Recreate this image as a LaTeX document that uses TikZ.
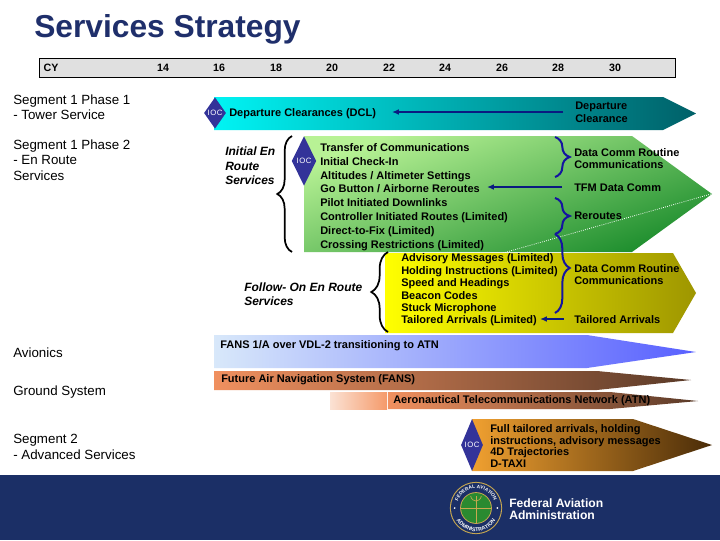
\documentclass[tikz,border=0pt]{standalone}
\usepackage{fontspec}
\setsansfont{Liberation Sans}
\usetikzlibrary{
  arrows.meta, shapes.geometric, decorations.pathreplacing, decorations.text
}
\definecolor{fnavy}{HTML}{1B2F66}
\definecolor{ftitle}{HTML}{1F2F6B}
\definecolor{fgrey}{HTML}{E0E0E0}
\definecolor{fioc}{HTML}{333399}
\definecolor{farrow}{HTML}{0A1A80}
\definecolor{fbrace}{HTML}{1414A0}
\definecolor{fgold}{HTML}{C8A850}
\definecolor{fglobe}{HTML}{2A8A30}
\definecolor{fcyana}{HTML}{00F4F4}
\definecolor{fcyanb}{HTML}{00C0C8}
\definecolor{fcyanc}{HTML}{006068}
\definecolor{fgreena}{HTML}{B8F295}
\definecolor{fgreenm}{HTML}{7CCB6C}
\definecolor{fgreenb}{HTML}{1E8E2E}
\definecolor{fyellowa}{HTML}{FFFF00}
\definecolor{fyellowb}{HTML}{F2EA00}
\definecolor{fyellowc}{HTML}{9E9600}
\definecolor{fbluea}{HTML}{D8E8FA}
\definecolor{fblueb}{HTML}{5860FF}
\definecolor{fbrowna}{HTML}{F0905F}
\definecolor{fbrownb}{HTML}{5A3A28}
\definecolor{fpeach}{HTML}{FBE2D4}
\definecolor{fpeachb}{HTML}{F59A6A}
\definecolor{forangea}{HTML}{F0A030}
\definecolor{forangeb}{HTML}{C97A20}
\definecolor{forangec}{HTML}{4A2C08}
\tikzset{
  >=Latex,
  font=\sffamily,
  segtxt/.style={anchor=west, inner sep=0pt, align=left, font=\fontsize{10}{11.6}\selectfont\sffamily},
  bartxt/.style={anchor=west, inner sep=0pt, align=left, font=\fontsize{8.25}{#1}\selectfont\sffamily\bfseries},
  bartxt/.default=9.6,
  italtxt/.style={anchor=west, inner sep=0pt, align=left, font=\fontsize{9}{10.8}\selectfont\sffamily\bfseries\itshape},
  yeartxt/.style={inner sep=0pt, font=\fontsize{8}{9}\selectfont\sffamily\bfseries},
  ioctxt/.style={text=white, inner sep=0pt, font=\fontsize{5.8}{6}\selectfont\sffamily\addfontfeatures{LetterSpace=8}},
  iocmark/.style={diamond, fill=fioc, inner sep=0pt, label={[ioctxt]center:IOC}},
  backarr/.style={-{Latex[length=1.8mm,width=1.5mm]}, line width=1.1pt, draw=farrow},
  bracelit/.style={decorate, decoration={brace, amplitude=#1}, line width=1.3pt},
  bluebrace/.style={decorate, decoration={brace, amplitude=11pt, aspect=#1}, line width=1.5pt, draw=fbrace}
}
\begin{document}
\begin{tikzpicture}[x=0.75pt,y=-0.75pt]
  \useasboundingbox (0,0) rectangle (720,540);
  \fill[white] (0,0) rectangle (720,540);
  \node[anchor=west, inner sep=0pt, text=ftitle, font=\fontsize{23.8}{28}\selectfont\sffamily\bfseries] (title) at (34,29) {Services Strategy};

  \draw[fill=fgrey, line width=0.7pt] (39,58) rectangle (675,77);
  \node[yeartxt] (cy) at (51,68) {CY};
  \foreach \yr/\xx in {14/163,16/219,18/276,20/332,22/389,24/445,26/502,28/558,30/615}
    \node[yeartxt] (y\yr) at (\xx,68) {\yr};

  \node[segtxt] (seg1) at (13,107) {Segment 1 Phase 1\\- Tower Service};
  \node[segtxt] (seg2) at (13,160) {Segment 1 Phase 2\\- En Route\\Services};
  \node[segtxt] (avio) at (13,353) {Avionics};
  \node[segtxt] (ground) at (13,392) {Ground System};
  \node[segtxt] (seg3) at (13,447) {Segment 2\\- Advanced Services};

  \shade[left color=fcyana, middle color=fcyanb, right color=fcyanc]
    (214,97) -- (663,97) -- (696,113.5) -- (663,130) -- (214,130) -- cycle;
  \shade[top color=fgreena, middle color=fgreenm, bottom color=fgreenb, shading angle=20]
    (304,136) -- (632,136) -- (712,194) -- (632,252) -- (304,252) -- cycle;
  \draw[white, densely dotted, line width=0.6pt] (711,194) -- (503,253);
  \shade[left color=fyellowa, middle color=fyellowb, right color=fyellowc]
    (385,253) -- (673,253) -- (696,293) -- (673,333) -- (385,333) -- cycle;
  \shade[left color=fbluea, right color=fblueb]
    (214,335) -- (587,335) -- (696,352) -- (587,368) -- (214,368) -- cycle;
  \shade[left color=fbrowna, right color=fbrownb]
    (214,371) -- (597,371) -- (691,380) -- (597,390) -- (214,390) -- cycle;
  \shade[left color=fpeach, right color=fpeachb] (330,392) rectangle (387,409);
  \shade[left color=fbrowna, right color=fbrownb]
    (388,392) -- (610,392) -- (698,401) -- (610,409) -- (388,409) -- cycle;
  \shade[left color=forangea, middle color=forangeb, right color=forangec]
    (472,419) -- (633,419) -- (712,445) -- (633,471) -- (472,471) -- cycle;

  \node[iocmark, minimum width=16.5pt, minimum height=23.5pt] (ioc1) at (215,113) {};
  \node[iocmark, minimum width=18.5pt, minimum height=37pt] (ioc2) at (304,161) {};
  \node[iocmark, minimum width=16.5pt, minimum height=39pt] (ioc3) at (472,445) {};

  \node[bartxt] (dcl) at (229,114) {Departure Clearances (DCL)};
  \node[bartxt] (dep) at (575,112) {Departure\\Clearance};
  \node[italtxt] (initial) at (225,166) {Initial En\\Route\\Services};
  \node[italtxt] (follow) at (244,294) {Follow- On En Route\\Services};
  \node[bartxt=10.4] (list1) at (320,197) {Transfer of Communications\\Initial Check-In\\Altitudes / Altimeter Settings\\Go Button / Airborne Reroutes\\Pilot Initiated Downlinks\\Controller Initiated Routes (Limited)\\Direct-to-Fix (Limited)\\Crossing Restrictions (Limited)};
  \node[bartxt=9.3] (list2) at (401,290) {Advisory Messages (Limited)\\Holding Instructions (Limited)\\Speed and Headings\\Beacon Codes\\Stuck Microphone\\Tailored Arrivals (Limited)};
  \node[bartxt] (comm1) at (574,158.5) {Data Comm Routine\\Communications};
  \node[bartxt] (tfm) at (574,188) {TFM Data Comm};
  \node[bartxt] (reroutes) at (574,216) {Reroutes};
  \node[bartxt] (comm2) at (574,274.5) {Data Comm Routine\\Communications};
  \node[bartxt] (tailored) at (574,320) {Tailored Arrivals};
  \node[bartxt] (fans1) at (220,346) {FANS 1/A over VDL-2 transitioning to ATN};
  \node[bartxt] (fans2) at (221,380) {Future Air Navigation System (FANS)};
  \node[bartxt] (atn) at (393,401) {Aeronautical Telecommunications Network (ATN)};
  \node[bartxt=8.8] (full) at (490,446) {Full tailored arrivals, holding\\instructions, advisory messages\\4D Trajectories\\D-TAXI};

  \coordinate (depend) at (392,112);
  \coordinate (tfmend) at (487,187);
  \coordinate (tailend) at (540,319);
  \draw[backarr] (563,112) -- (depend);
  \draw[backarr] (562,187) -- (tfmend);
  \draw[backarr] (564,319) -- (tailend);

  \draw[bracelit=11pt] (292,252) -- (292,136);
  \draw[bracelit=12.5pt] (388,332) -- (388,252);
  \draw[bluebrace=0.5] (555,137) -- (555,177);
  \draw[bluebrace=0.5] (555,198) -- (555,234);
  \draw[bluebrace=0.43] (555,234) -- (555,313);

  \fill[fnavy] (0,475) rectangle (720,540);
  \node[anchor=west, inner sep=0pt, align=left, text=white, font=\fontsize{9.1}{9}\selectfont\sffamily\bfseries] (faa) at (509,509) {Federal Aviation\\Administration};
  \begin{scope}[shift={(476,508)}, x=1pt, y=1pt]
    \fill[fgold] (0,0) circle (19.6pt);
    \fill[fnavy] (0,0) circle (18.8pt);
    \fill[fgold] (0,0) circle (11.9pt);
    \fill[fglobe] (0,0) circle (11.2pt);
    \draw[fgold, line width=0.7pt] (-11.2,0) -- (11.2,0) (0,-11.2) -- (0,9);
    \draw[fgold, line width=0.5pt] (-4,9) .. controls (-3,4) and (3,4) .. (4,9);
    \fill[white] (-16,0) circle (0.7pt) (16,0) circle (0.7pt);
    \path[decorate, decoration={text along path, text align=center, text={|\fontsize{3.6}{5}\selectfont\sffamily\bfseries\color{white}|FEDERAL AVIATION}}]
      (-14.6,0) arc (180:0:14.6);
    \path[decorate, decoration={text along path, text align=center, text={|\fontsize{4}{5}\selectfont\sffamily\bfseries\color{white}|ADMINISTRATION}}]
      (-17.5,0) arc (180:360:17.5);
  \end{scope}
\end{tikzpicture}
\end{document}
